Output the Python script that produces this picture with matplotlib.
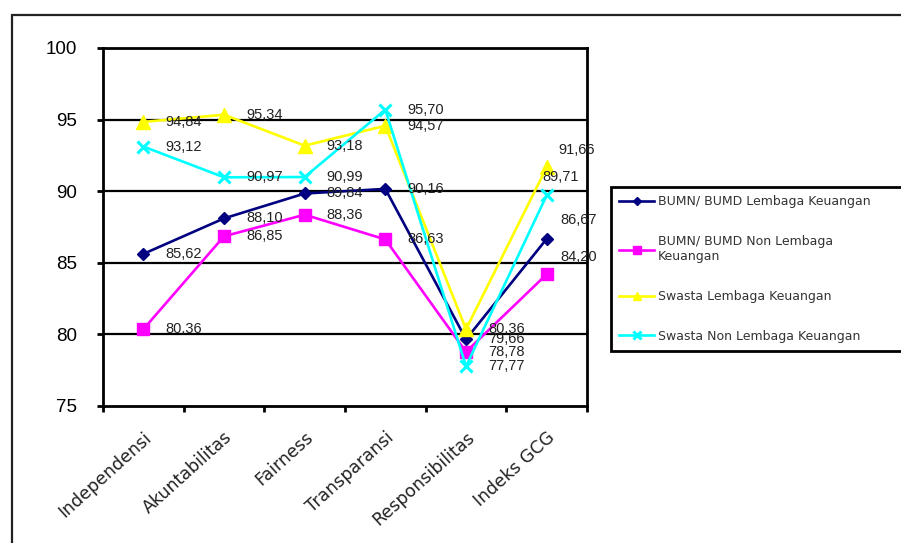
import matplotlib
matplotlib.use("Agg")
import matplotlib.pyplot as plt
from matplotlib.patches import Rectangle
import numpy as np


CATEGORIES = ["Independensi", "Akuntabilitas", "Fairness", "Transparansi",
              "Responsibilitas", "Indeks GCG"]

BUMN_LK = [85.62, 88.10, 89.84, 90.16, 79.66, 86.67]
BUMN_NON_LK = [80.36, 86.85, 88.36, 86.63, 78.78, 84.20]
SWASTA_LK = [94.84, 95.34, 93.18, 94.57, 80.36, 91.66]
SWASTA_NON_LK = [93.12, 90.97, 90.99, 95.70, 77.77, 89.71]

SERIES_LABELS = [
    "BUMN/ BUMD Lembaga Keuangan",
    "BUMN/ BUMD Non Lembaga\nKeuangan",
    "Swasta Lembaga Keuangan",
    "Swasta Non Lembaga Keuangan",
]


def fmt(v):
    return f"{v:.2f}".replace(".", ",")


def main():
    plt.rcParams.update({
        "font.family": ["Liberation Sans", "DejaVu Sans"],
        "axes.linewidth": 2.0,
    })
    W, H = 901, 543
    fig = plt.figure(figsize=(W / 100, H / 100), dpi=100)
    ax = fig.add_axes([103 / W, 1 - 406 / H, 484 / W, 358 / H])

    # outer chart frame, cut by the right and bottom edges
    fig.patches.append(Rectangle((12 / W, -0.2), 1.2, 1.2 - 15 / H,
                                 transform=fig.transFigure, fill=False,
                                 edgecolor="#222222", linewidth=1.6))

    x = np.arange(len(CATEGORIES))
    styles = [
        (BUMN_LK, "#000080", "D", 6.5, 1.0),
        (BUMN_NON_LK, "#ff00ff", "s", 9.0, 1.0),
        (SWASTA_LK, "#ffff00", "^", 9.5, 1.0),
        (SWASTA_NON_LK, "#00ffff", "x", 8.5, 2.2),
    ]
    for (vals, color, marker, ms, mew), label in zip(styles, SERIES_LABELS):
        ax.plot(x, vals, color=color, lw=1.9, marker=marker, ms=ms,
                mew=mew, mec=color, label=label, zorder=3)

    # value labels: right of each point, raised a bit at the last category
    last_offsets = [(14, 19), (14, 17), (12, 17), (-4, 18)]
    for s, (vals, *_rest) in enumerate(styles):
        for i, v in enumerate(vals):
            dx, dy = (22, 0) if i < len(vals) - 1 else last_offsets[s]
            ax.annotate(fmt(v), (x[i], v), xytext=(dx, dy),
                        textcoords="offset pixels", ha="left", va="center",
                        fontsize=10.5, color="#222222", zorder=4)

    ax.set_ylim(75, 100)
    ax.set_yticks(np.arange(75, 101, 5))
    ax.tick_params(axis="y", direction="out", length=4.5, width=2,
                   labelsize=13.5, pad=14)
    for yv in [80, 85, 90, 95]:
        ax.axhline(yv, color="black", lw=1.6, zorder=1)

    ax.set_xlim(-0.5, len(CATEGORIES) - 0.5)
    ax.set_xticks(np.arange(-0.5, len(CATEGORIES), 1.0))
    ax.set_xticklabels([])
    ax.set_xticks(x, minor=True)
    ax.set_xticklabels(CATEGORIES, minor=True, rotation=42, ha="right",
                       rotation_mode="anchor", fontsize=12.5,
                       family="DejaVu Sans", color="#222222")
    ax.tick_params(axis="x", which="major", direction="out", length=4.5, width=2)
    ax.tick_params(axis="x", which="minor", length=0, pad=16)

    leg = ax.legend(loc="upper left", bbox_to_anchor=(611 / W, 0.0, 0.5, 1 - 187 / H),
                    bbox_transform=fig.transFigure, mode="expand",
                    prop={"family": "DejaVu Sans", "size": 9}, frameon=True,
                    fancybox=False, edgecolor="black", framealpha=1,
                    handlelength=2.8, handletextpad=0.3, labelspacing=2.15,
                    borderpad=0.65, markerscale=0.6, borderaxespad=0)
    leg.get_frame().set_linewidth(2.0)
    for t in leg.get_texts():
        t.set_color("#333333")

    fig.savefig("out.png", dpi=100)


if __name__ == "__main__":
    main()
